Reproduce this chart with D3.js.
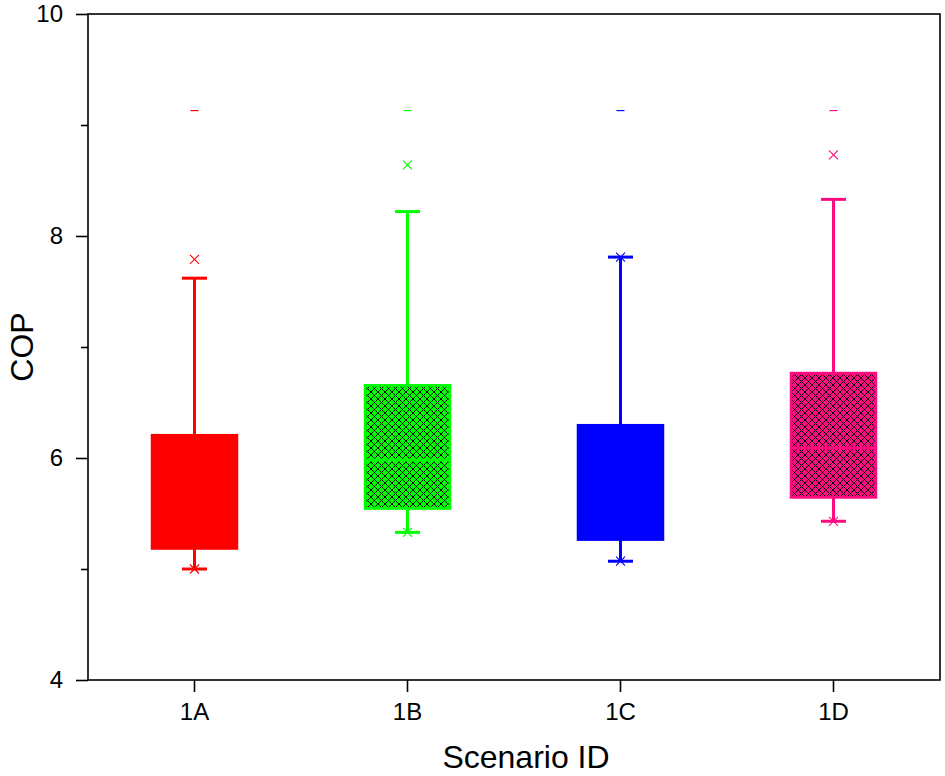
<!DOCTYPE html>
<html><head><meta charset="utf-8">
<script src="https://cdn.jsdelivr.net/npm/d3@7"></script>
<style>body{margin:0;background:#fff}svg{display:block}</style>
</head><body><svg id="c" width="945" height="776"></svg>
<script>
const categories = ["1A","1B","1C","1D"];
const colors = ["#ff0000","#00ff00","#0000ff","#ff0a80"];
const hatched = [false,true,false,true];
const q1 = [5.18,5.54,5.26,5.64];
const median = [5.70,5.98,5.80,6.09];
const q3 = [6.21,6.66,6.30,6.77];
const whiskerLow = [5.00,5.33,5.07,5.43];
const whiskerHigh = [7.62,8.22,7.81,8.33];
const outlierHigh = [7.79,8.64,7.81,8.73];
const outlierLow = [5.00,5.33,5.07,5.43];
const maxMark = [9.13,9.13,9.13,9.13];
const yTicks = [4,6,8,10];
const yMinor = [5,7,9];

const svg = d3.select("#c");
const L=88,R=940,T=14,B=680;
const x = d3.scaleBand().domain(categories).range([L,R]);
const y = d3.scaleLinear().domain([4,10]).range([B,T]);
const font = "'Liberation Sans', Arial, sans-serif";

const defs = svg.append("defs");
const pat = defs.append("pattern").attr("id","hatch").attr("patternUnits","userSpaceOnUse")
  .attr("width",7).attr("height",7);
pat.append("path").attr("d","M0,0L7,7M7,0L0,7M-1,6L1,8M6,-1L8,1M-1,1L1,-1M6,8L8,6")
  .attr("stroke","#000").attr("stroke-width",1).attr("fill","none");

const bw = 86;
categories.forEach((c,i)=>{
  const cx = x(c)+x.bandwidth()/2;
  const col = colors[i];
  const g = svg.append("g");
  g.append("line").attr("x1",cx).attr("x2",cx).attr("y1",y(q3[i])).attr("y2",y(whiskerHigh[i]))
    .attr("stroke",col).attr("stroke-width",3);
  g.append("line").attr("x1",cx).attr("x2",cx).attr("y1",y(q1[i])).attr("y2",y(whiskerLow[i]))
    .attr("stroke",col).attr("stroke-width",3);
  [whiskerHigh[i],whiskerLow[i]].forEach(v=>{
    g.append("line").attr("x1",cx-12.5).attr("x2",cx+12.5).attr("y1",y(v)).attr("y2",y(v))
      .attr("stroke",col).attr("stroke-width",3);
  });
  g.append("rect").attr("x",cx-bw/2).attr("y",y(q3[i])).attr("width",bw).attr("height",y(q1[i])-y(q3[i]))
    .attr("fill",col);
  if(hatched[i]){
    g.append("rect").attr("x",cx-bw/2+2).attr("y",y(q3[i])+2).attr("width",bw-4).attr("height",y(q1[i])-y(q3[i])-4)
      .attr("fill","url(#hatch)");
  }
  g.append("rect").attr("x",cx-bw/2).attr("y",y(q3[i])).attr("width",bw).attr("height",y(q1[i])-y(q3[i]))
    .attr("fill","none").attr("stroke",col).attr("stroke-width",1.5);
  g.append("line").attr("x1",cx-bw/2).attr("x2",cx+bw/2).attr("y1",y(median[i])).attr("y2",y(median[i]))
    .attr("stroke",col).attr("stroke-width",3);
  const xm = (v)=>{
    const yy=y(v), s=4.5;
    g.append("path").attr("d",`M${cx-s},${yy-s}L${cx+s},${yy+s}M${cx+s},${yy-s}L${cx-s},${yy+s}`)
      .attr("stroke",col).attr("stroke-width",1.1).attr("fill","none");
  };
  xm(outlierHigh[i]); xm(outlierLow[i]);
  g.append("line").attr("x1",cx-4).attr("x2",cx+4).attr("y1",y(maxMark[i])).attr("y2",y(maxMark[i]))
    .attr("stroke",col).attr("stroke-width",1.2);
});

svg.append("rect").attr("x",L).attr("y",T).attr("width",R-L).attr("height",B-T)
  .attr("fill","none").attr("stroke","#000").attr("stroke-width",1.6);

const ya = svg.append("g").attr("transform",`translate(${L},0)`)
  .call(d3.axisLeft(y).tickValues(yTicks).tickSize(12).tickPadding(13).tickFormat(d3.format("d")));
ya.select(".domain").remove();
ya.selectAll("line").attr("stroke-width",1.6);
ya.selectAll("text").attr("font-family",font).attr("font-size",24).attr("fill","#000");
const ym = svg.append("g").attr("transform",`translate(${L},0)`)
  .call(d3.axisLeft(y).tickValues(yMinor).tickSize(7).tickFormat(""));
ym.select(".domain").remove();
ym.selectAll("line").attr("stroke-width",1.6);

const xa = svg.append("g").attr("transform",`translate(0,${B})`)
  .call(d3.axisBottom(x).tickSize(12).tickPadding(11));
xa.select(".domain").remove();
xa.selectAll("line").attr("stroke-width",1.6);
xa.selectAll("text").attr("font-family",font).attr("font-size",24).attr("fill","#000");

svg.append("text").attr("x",526).attr("y",768).attr("text-anchor","middle")
  .attr("font-family",font).attr("font-size",32).text("Scenario ID");
svg.append("text").attr("transform","translate(33,347) rotate(-90)").attr("text-anchor","middle")
  .attr("font-family",font).attr("font-size",32).text("COP");
</script></body></html>
